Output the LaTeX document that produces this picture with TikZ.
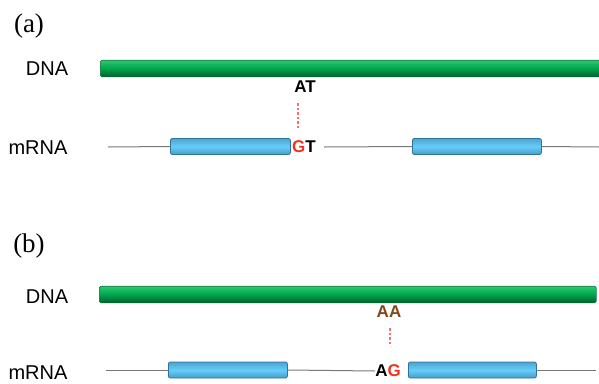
\documentclass[tikz,border=0pt]{standalone}
\usepackage{fontspec}
\setmainfont{Liberation Serif}
\setsansfont{Liberation Sans}
\begin{document}
\begin{tikzpicture}[x=1pt,y=-1pt,
  dnabar/.style={draw=dnaedge,line width=0.6pt,rounded corners=1.5pt,inner sep=0pt,
    top color=dnatop,bottom color=dnabot,middle color=dnamid,minimum height=16.5pt},
  exon/.style={draw=exonedge,line width=0.8pt,rounded corners=2pt,inner sep=0pt,
    top color=exonedge!45!exonfill,bottom color=exonedge!55!exonfill,middle color=exonfill,minimum height=16pt},
  intron/.style={draw=introncol,line width=1pt},
  lab/.style={font=\sffamily\fontsize{20}{20}\selectfont,inner sep=0pt},
  panel/.style={font=\rmfamily\fontsize{27}{27}\selectfont,inner sep=0pt},
  base/.style={font=\sffamily\bfseries\fontsize{17}{17}\selectfont,inner sep=0pt},
  link/.style={draw=linkred,line width=1.5pt,dash pattern=on 2.5pt off 2pt}
]
\definecolor{dnatop}{RGB}{40,200,110}
\definecolor{dnamid}{RGB}{0,165,78}
\definecolor{dnabot}{RGB}{0,95,45}
\definecolor{dnaedge}{RGB}{0,110,50}
\definecolor{exonfill}{RGB}{100,205,250}
\definecolor{exonedge}{RGB}{50,115,155}
\definecolor{introncol}{RGB}{120,120,120}
\definecolor{linkred}{RGB}{250,110,110}
\definecolor{gred}{RGB}{240,50,30}
\definecolor{brownA}{RGB}{130,70,25}
\useasboundingbox (0,0) rectangle (599,383);

% ---------- panel (a)
\node[panel] (pa) at (29,26) {(a)};
\node[lab] (dnaLa) at (47,69) {DNA};
\node[dnabar,minimum width=510pt,anchor=west] (dnaA) at (100,68.5) {};
\node[lab] (mrnaLa) at (38,148) {mRNA};
\coordinate (sA) at (108,147);
\coordinate (eA) at (599,147);
\node[exon,minimum width=120pt,anchor=west] (exA1) at (170,146.5) {};
\node[base,anchor=west] (gtA) at (292,147) {\textcolor{gred}{G}T};
\node[exon,minimum width=129pt,anchor=west] (exA2) at (412,146.5) {};
\node[base] (atA) at (305,87) {AT};
\draw[intron] (sA) -- (exA1.west);
\draw[intron] (gtA.east) ++(8,0) coordinate (gtAe) (gtAe) -- (exA2.west);
\draw[intron] (exA2.east) -- (eA);
\coordinate (dA1) at (298,103);
\coordinate (dA2) at (298,129);
\draw[link] (dA1) -- (dA2);

% ---------- panel (b)
\node[panel] (pb) at (29,246) {(b)};
\node[lab] (dnaLb) at (47,297) {DNA};
\node[dnabar,minimum width=497pt,anchor=west] (dnaB) at (99,294.5) {};
\node[lab] (mrnaLb) at (38,373) {mRNA};
\coordinate (sB) at (106,370);
\coordinate (eB) at (596,370);
\node[exon,minimum width=119pt,anchor=west] (exB1) at (168,370) {};
\node[base,anchor=east] (agB) at (401,371) {A\textcolor{gred}{G}};
\node[exon,minimum width=128pt,anchor=west] (exB2) at (408,370) {};
\node[base,text=brownA] (aaB) at (389,312) {AA};
\draw[intron] (sB) -- (exB1.west);
\draw[intron] (exB1.east) -- (agB.west);
\draw[intron] (exB2.east) -- (eB);
\coordinate (dB1) at (390,328);
\coordinate (dB2) at (390,346);
\draw[link] (dB1) -- (dB2);
\end{tikzpicture}
\end{document}
